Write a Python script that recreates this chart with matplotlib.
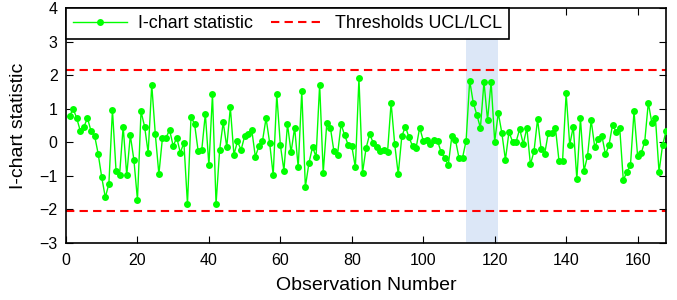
import matplotlib
matplotlib.use("Agg")
import matplotlib.pyplot as plt
import numpy as np

plt.rcParams['font.family'] = ['Liberation Sans', 'DejaVu Sans']

obs = list(range(1, 169))
istat = [
    0.78, 1.00, 0.72, 0.34, 0.46, 0.72, 0.34, 0.20, -0.34, -1.04,
    -1.64, -1.24, 0.97, -0.84, -0.96, 0.47, -0.98, 0.21, -0.52, -1.71,
    0.92, 0.47, -0.31, 1.72, 0.24, -0.95, 0.14, 0.14, 0.37, -0.11,
    0.14, -0.31, -0.01, -1.84, 0.76, 0.54, -0.27, -0.23, 0.85, -0.69,
    1.43, -1.84, -0.23, 0.60, -0.14, 1.04, -0.37, 0.03, -0.23, 0.18,
    0.24, 0.37, -0.43, -0.11, 0.04, 0.72, -0.01, -0.98, 1.43, -0.08,
    -0.84, 0.54, -0.30, 0.44, -0.75, 1.53, -1.33, -0.62, -0.14, -0.43,
    1.72, -0.91, 0.57, 0.44, -0.27, -0.37, 0.54, 0.21, -0.08, -0.11,
    -0.75, 1.91, -0.91, -0.17, 0.24, -0.01, -0.14, -0.27, -0.23, -0.30,
    1.18, -0.04, -0.95, 0.18, 0.47, 0.15, -0.11, -0.17, 0.44, 0.05,
    0.08, -0.05, 0.08, 0.05, -0.30, -0.46, -0.68, 0.18, 0.08, -0.46,
    -0.46, 0.05, 1.84, 1.18, 0.82, 0.43, 1.80, 0.66, 1.80, 0.02,
    0.88, 0.28, -0.52, 0.31, 0.02, 0.02, 0.40, -0.05, 0.43, -0.66,
    -0.27, 0.69, -0.20, -0.34, 0.28, 0.28, 0.43, -0.55, -0.55, 1.46,
    -0.08, 0.47, -1.10, 0.72, -0.85, -0.40, 0.66, -0.14, 0.11, 0.20,
    -0.36, -0.08, 0.53, 0.31, 0.43, -1.13, -0.88, -0.69, 0.92, -0.40,
    -0.33, 0.02, 1.18, 0.57, 0.72, -0.88, -0.08, 0.34,
]
ucl = 2.15
lcl = -2.04
shade_range = (112, 121)
xticks = [0, 20, 40, 60, 80, 100, 120, 140, 160]
yticks = [-3, -2, -1, 0, 1, 2, 3, 4]

fig = plt.figure(figsize=(6.77, 3.0), dpi=100)
ax = fig.add_axes([0.0975, 0.19, 0.8865, 0.783])

ax.axvspan(shade_range[0], shade_range[1], color='#dce7f7', zorder=0, lw=0)
ax.plot(obs, istat, color='#00ff00', lw=1.0, marker='o', markersize=5,
        markeredgewidth=0, label='I-chart statistic', zorder=3)
ax.axhline(ucl, color='#ff0000', ls=(0, (4, 2.5)), lw=1.5,
           label='Thresholds UCL/LCL', zorder=2)
ax.axhline(lcl, color='#ff0000', ls=(0, (4, 2.5)), lw=1.5, zorder=2)

ax.set_xlim(0, 168)
ax.set_ylim(-3, 4)
ax.set_xticks(xticks)
ax.set_yticks(yticks)
ax.tick_params(direction='in', top=True, right=True, length=5, width=0.8,
               labelsize=11.5)
ax.tick_params(axis='x', pad=7)
ax.tick_params(axis='y', pad=6)
for s in ax.spines.values():
    s.set_linewidth(1.2)

ax.set_xlabel('Observation Number', fontsize=14, labelpad=7)
ax.set_ylabel('I-chart statistic', fontsize=14, labelpad=9)

leg = ax.legend(loc='upper left', ncol=2, fontsize=12.9, frameon=True,
                fancybox=False, edgecolor='black', framealpha=1,
                borderaxespad=0, handlelength=3, handletextpad=0.6,
                columnspacing=1.0, borderpad=0.4)
leg.get_frame().set_linewidth(1.2)

fig.savefig('out.png', dpi=100)
